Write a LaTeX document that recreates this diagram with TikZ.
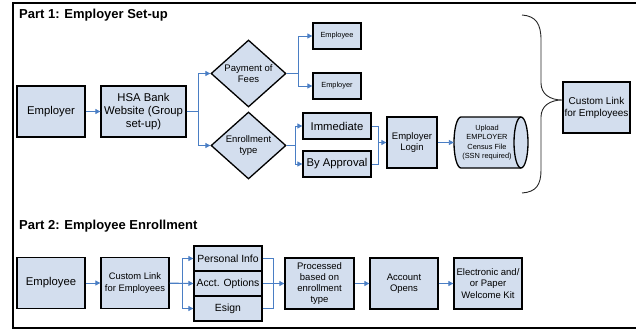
\documentclass[tikz,border=0pt]{standalone}
\usepackage{fontspec}
\setmainfont{Liberation Sans}
\usetikzlibrary{arrows.meta,shapes.geometric}
\definecolor{boxfill}{HTML}{D3DEEE}
\definecolor{linkblue}{HTML}{4A7EC4}
\tikzset{
  box/.style={draw, line width=1.3pt, fill=boxfill, align=center, inner sep=1pt},
  big/.style={font=\fontsize{11.3}{13.3}\selectfont},
  mid/.style={font=\fontsize{9.5}{11.3}\selectfont},
  tiny/.style={font=\fontsize{7.4}{9.2}\selectfont},
  title/.style={font=\fontsize{13}{15}\selectfont\bfseries, anchor=west, inner sep=0pt},
  line/.style={draw=linkblue, line width=0.9pt},
  flow/.style={line, -{Triangle[length=5pt,width=5pt]}},
}
\begin{document}
\begin{tikzpicture}[x=1pt, y=-1pt]
  \useasboundingbox (0,0) rectangle (636,330);
  \draw[line width=1.6pt] (640,3) -- (13,3) -- (13,328) -- (640,328);
  % part 1
  \node[title] (t1) at (19,15) {Part 1: Employer Set-up};
  \node[box, big, minimum width=68, minimum height=51] (emp) at (51,111.5) {Employer};
  \node[box, big, minimum width=85, minimum height=51] (hsa) at (143.5,111.5) {HSA Bank\\Website (Group\\set-up)};
  \node[box, mid, diamond, aspect=1.12, inner sep=0pt, minimum width=75, minimum height=67] (pay) at (248.5,73.5) {Payment of\\Fees};
  \node[box, mid, diamond, aspect=1.12, inner sep=0pt, minimum width=75, minimum height=67] (enr) at (248.5,145.5) {Enrollment\\type};
  \node[box, tiny, minimum width=48, minimum height=26] (ee) at (337,36) {Employee};
  \node[box, tiny, minimum width=48, minimum height=26] (er) at (337,86) {Employer};
  \node[box, big, minimum width=68, minimum height=26] (imm) at (337,126) {Immediate};
  \node[box, big, minimum width=68, minimum height=26] (appr) at (337,164) {By Approval};
  \node[box, mid, minimum width=50, minimum height=51] (login) at (412,142.5) {Employer\\Login};
  % census file drum
  \draw[line width=1.3pt, fill=boxfill] (461,117) -- (521,117)
    arc[start angle=90, end angle=-90, x radius=7pt, y radius=25.5pt] -- (461,168)
    arc[start angle=270, end angle=90, x radius=7pt, y radius=25.5pt] -- cycle;
  \draw[line width=1.3pt] (521,117) arc[start angle=90, end angle=270, x radius=7pt, y radius=25.5pt];
  \node[tiny, align=center, inner sep=0pt, minimum width=66, minimum height=51] (csv) at (487,142.5) {Upload\\EMPLOYER\\Census File\\(SSN required)};
  \node[box, font=\fontsize{10}{12}\selectfont, minimum width=67, minimum height=51] (link) at (596.5,107.5) {Custom Link\\for Employees};
  \draw[line width=0.9pt, black!85] (522,15) .. controls (536,16) and (541,24) .. (541,40)
    -- (541,83) .. controls (541,94) and (550,100) .. (562,100)
    .. controls (550,100) and (541,106) .. (541,117) -- (541,170)
    .. controls (541,185) and (536,192) .. (522,193);
  \draw[flow] (emp) -- (hsa);
  \draw[flow] (hsa.east) -- ++(12,0) |- (pay.west);
  \draw[flow] (hsa.east) -- ++(12,0) |- (enr.west);
  \draw[flow] (pay.east) -- ++(12,0) |- (ee.west);
  \draw[flow] (pay.east) -- ++(12,0) |- (er.west);
  \draw[flow] (enr.east) -- ++(9,0) |- (imm.west);
  \draw[flow] (enr.east) -- ++(9,0) |- (appr.west);
  \draw[flow] (imm.east) -- ++(7,0) |- (login.west);
  \draw[line] (appr.east) -- ++(7,0) |- (login.west);
  \draw[flow] (login) -- (csv);
  % part 2
  \node[title] (t2) at (19,226) {Part 2: Employee Enrollment};
  \node[box, big, minimum width=68, minimum height=51] (emp2) at (51,283) {Employee};
  \node[box, font=\fontsize{9.4}{11.5}\selectfont, minimum width=68, minimum height=51] (link2) at (135,283) {Custom Link\\for Employees};
  \node[box, font=\fontsize{10.4}{12}\selectfont, minimum width=68, minimum height=25] (pi) at (228,258.5) {Personal Info};
  \node[box, font=\fontsize{10.4}{12}\selectfont, minimum width=68, minimum height=25] (ao) at (228,283.5) {Acct. Options};
  \node[box, font=\fontsize{10.4}{12}\selectfont, minimum width=68, minimum height=25] (es) at (228,308.5) {Esign};
  \node[box, mid, minimum width=69, minimum height=51] (proc) at (319.5,283.5) {Processed\\based on\\enrollment\\type};
  \node[box, mid, minimum width=68, minimum height=51] (acct) at (404,283.5) {Account\\Opens};
  \node[box, mid, minimum width=68, minimum height=51] (kit) at (488,283.5) {Electronic and/\\or Paper\\Welcome Kit};
  \draw[flow] (emp2) -- (link2);
  \draw[flow] (link2.east) -- ++(13,0) |- (pi.west);
  \draw[flow] (link2.east) -- (ao.west);
  \draw[flow] (link2.east) -- ++(13,0) |- (es.west);
  \draw[line] (pi.east) -- ++(11,0) |- (proc.west);
  \draw[line] (es.east) -- ++(11,0) |- (proc.west);
  \draw[flow] (ao.east) -- (proc.west);
  \draw[flow] (proc) -- (acct);
  \draw[flow] (acct) -- (kit);
\end{tikzpicture}
\end{document}
